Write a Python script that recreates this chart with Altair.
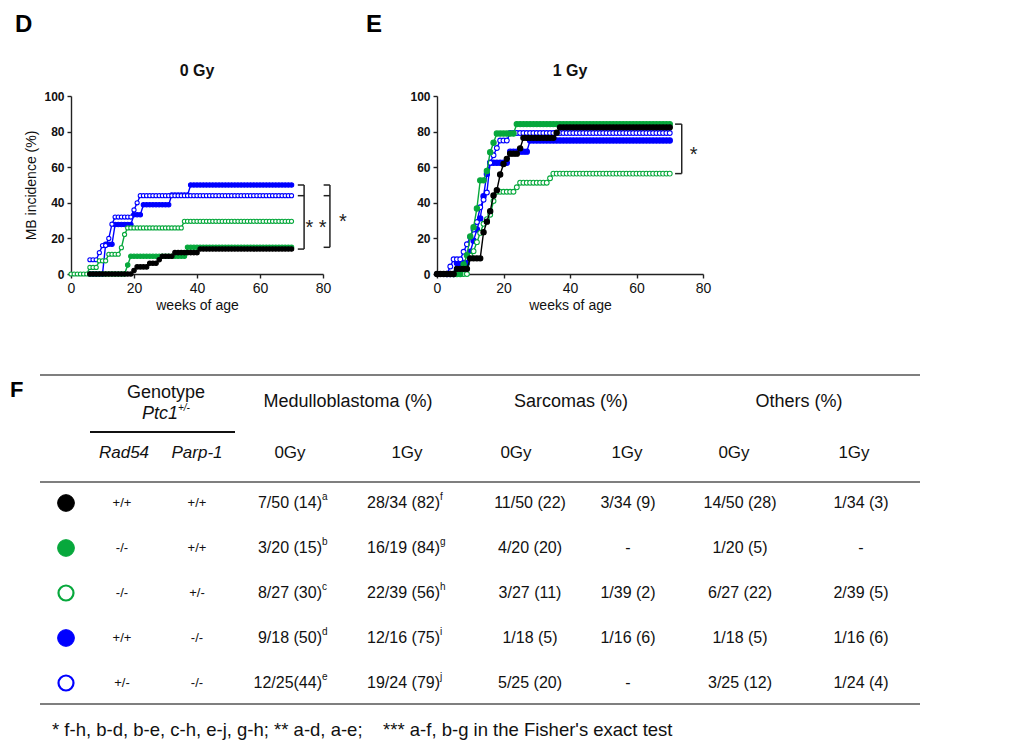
import altair as alt
import pandas as pd

FONT = "Liberation Sans"
INK = "#111111"

# ---------------- series (genotypes) ----------------
SERIES = ["Rad54+/+ Parp-1+/+", "Rad54-/- Parp-1+/+", "Rad54-/- Parp-1+/-",
          "Rad54+/+ Parp-1-/-", "Rad54+/- Parp-1-/-"]
SERIES_STROKE = ["#000000", "#07a83c", "#07a83c", "#0000ff", "#0000ff"]
SERIES_FILL = ["#000000", "#07a83c", "#ffffff", "#0000ff", "#ffffff"]
DRAW_ORDER = [3, 4, 2, 1, 0]

# ---------------- Panel D: 0 Gy, MB incidence (%) by week ----------------
d0_start = [6, 6, 0, 6, 6]
d0_black = [0]*14 + [2] + [4]*4 + [6]*3 + [8] + [10]*4 + [12]*8 + [14]*30
d0_green_filled = [0]*12 + [5] + [10]*18 + [15]*34
d0_green_open = [0]*6 + [3.7]*3 + [7.4]*3 + [11.1]*4 + [14.8] + [22.2] + [25.9]*18 + [29.6]*35
d0_blue_filled = [0]*5 + [16.7]*3 + [27.8]*6 + [33.3]*3 + [38.9]*9 + [44.4]*6 + [50]*33
d0_blue_open = [8]*3 + [12] + [16]*2 + [20] + [28] + [32]*6 + [36] + [40] + [44]*49

# ---------------- Panel E: 1 Gy ----------------
e1_start = [0, 5, 7, 3, 1]
e1_black = ([0]*6 + [2.9]*4 + [8.8]*4 + [23.5, 29.4, 35.3, 44.1, 47.1, 55.9, 61.8, 64.7]
            + [67.6]*3 + [70.6] + [76.5]*10 + [79.4] + [82.4]*34)
e1_green_filled = [0]*3 + [5.3, 10.5, 21.1, 26.3, 36.8] + [52.6]*2 + [57.9, 68.4, 73.7] + [78.9]*6 + [84.2]*47
e1_green_open = ([0]*3 + [10.3, 12.8, 17.9, 23.1, 28.2, 30.8, 33.3, 41.0] + [46.2]*6 + [48.7]
                 + [51.3]*9 + [53.8] + [56.4]*36)
e1_blue_filled = [0]*3 + [6.25]*4 + [12.5, 18.75, 25.0, 31.25, 43.75, 56.25] + [62.5]*6 + [68.75]*6 + [75]*43
e1_blue_open = ([0]*3 + [4.2] + [8.3]*3 + [12.5, 16.7, 20.8, 25.0, 29.2, 37.5, 41.7, 45.8, 62.5, 66.7, 70.8]
                + [75]*3 + [79.2]*49)

# significance brackets (x in weeks, y levels in %) and stars
D_BRACKETS = [(74, [50, 44, 14]), (82.2, [50, 44, 15])]
D_STARS = [("* *", 77.8, 26), ("*", 86.3, 29)]
E_BRACKETS = [(73.6, [84.2, 56.4])]
E_STARS = [("*", 77.2, 67)]

# ---------------- Table F ----------------
rad54 = ["+/+", "-/-", "-/-", "+/+", "+/-"]
parp1 = ["+/+", "+/+", "+/-", "-/-", "-/-"]
mb_0gy = ["7/50 (14)", "3/20 (15)", "8/27 (30)", "9/18 (50)", "12/25(44)"]
mb_0gy_sup = ["a", "b", "c", "d", "e"]
mb_1gy = ["28/34 (82)", "16/19 (84)", "22/39 (56)", "12/16 (75)", "19/24 (79)"]
mb_1gy_sup = ["f", "g", "h", "i", "j"]
sarc_0gy = ["11/50 (22)", "4/20 (20)", "3/27 (11)", "1/18 (5)", "5/25 (20)"]
sarc_1gy = ["3/34 (9)", "-", "1/39 (2)", "1/16 (6)", "-"]
oth_0gy = ["14/50 (28)", "1/20 (5)", "6/27 (22)", "1/18 (5)", "3/25 (12)"]
oth_1gy = ["1/34 (3)", "-", "2/39 (5)", "1/16 (6)", "1/24 (4)"]
FOOTNOTE = "* f-h, b-d, b-e, c-h, e-j, g-h; ** a-d, a-e;\u00a0\u00a0\u00a0 *** a-f, b-g in the Fisher's exact test"

# ---------------- build frames ----------------
def series_frame(panel, starts, lists):
    frames = []
    for i, (s, vals) in enumerate(zip(starts, lists)):
        frames.append(pd.DataFrame({"panel": panel, "series": SERIES[i],
                                    "week": list(range(s, s + len(vals))), "value": vals}))
    return pd.concat(frames, ignore_index=True)

curves = pd.concat([
    series_frame("0 Gy", d0_start, [d0_black, d0_green_filled, d0_green_open, d0_blue_filled, d0_blue_open]),
    series_frame("1 Gy", e1_start, [e1_black, e1_green_filled, e1_green_open, e1_blue_filled, e1_blue_open]),
], ignore_index=True)

stroke_scale = alt.Scale(domain=SERIES, range=SERIES_STROKE)
fill_scale = alt.Scale(domain=SERIES, range=SERIES_FILL)


def label(txt, x, y, size, weight="normal", style="normal", align="center", baseline="middle", color=INK):
    return alt.Chart(pd.DataFrame({"t": [txt]})).mark_text(
        font=FONT, fontSize=size, fontWeight=weight, fontStyle=style, align=align,
        baseline=baseline, color=color).encode(text="t:N", x=alt.value(x), y=alt.value(y))


def panel_chart(panel, title, y_title, brackets, stars, width, fsize, osize):
    xs = alt.Scale(domain=[0, 80], nice=False, zero=False)
    ys = alt.Scale(domain=[0, 100], nice=False, zero=False)
    common = dict(grid=False, domainColor="#222", tickColor="#222", domainWidth=1.4, tickWidth=1.4,
                  tickSize=4, labelFont=FONT, titleFont=FONT, labelColor=INK, titleColor=INK,
                  labelFlush=False, labelOverlap=False)
    xax = alt.Axis(values=[0, 20, 40, 60, 80], title="weeks of age", labelFontSize=14,
                   titleFontSize=14, titleFontWeight="normal", labelPadding=3, titlePadding=3, **common)
    ykw = dict(values=[0, 20, 40, 60, 80, 100], labelFontSize=12, labelFontWeight="bold",
               labelPadding=3, **common)
    if y_title:
        yax = alt.Axis(title=y_title, titleFontSize=14, titleFontWeight="normal", titlePadding=5, **ykw)
    else:
        yax = alt.Axis(title=None, **ykw)
    X = lambda f: alt.X(f, scale=xs, axis=xax)
    Y = lambda f: alt.Y(f, scale=ys, axis=yax)
    layers = []
    for i in DRAW_ORDER:
        d = curves[(curves.panel == panel) & (curves.series == SERIES[i])]
        base = alt.Chart(d).encode(x=X("week:Q"), y=Y("value:Q"))
        layers.append(base.mark_line(strokeWidth=1.4).encode(
            stroke=alt.Stroke("series:N", scale=stroke_scale, legend=None)))
        size = osize if SERIES_FILL[i] == "#ffffff" else fsize
        layers.append(base.mark_point(shape="circle", filled=True, size=size, strokeWidth=1.1, opacity=1).encode(
            fill=alt.Fill("series:N", scale=fill_scale, legend=None),
            stroke=alt.Stroke("series:N", scale=stroke_scale, legend=None)))
    segs = []
    for bx, levels in brackets:
        segs.append({"week": bx, "x2": bx, "value": min(levels), "y2": max(levels)})
        for lv in levels:
            segs.append({"week": bx - 2, "x2": bx, "value": lv, "y2": lv})
    layers.append(alt.Chart(pd.DataFrame(segs)).mark_rule(color="#222", strokeWidth=1.5).encode(
        x=X("week:Q"), x2="x2:Q", y=Y("value:Q"), y2="y2:Q"))
    layers.append(alt.Chart(pd.DataFrame(stars, columns=["t", "week", "value"])).mark_text(
        font=FONT, fontSize=20, color="#222", baseline="middle").encode(
        x=X("week:Q"), y=Y("value:Q"), text="t:N"))
    return alt.layer(*layers).properties(
        width=width, height=178,
        title=alt.TitleParams(title, font=FONT, fontSize=16, fontWeight="bold", color=INK, offset=11))


chart_d = panel_chart("0 Gy", "0 Gy", "MB incidence (%)", D_BRACKETS, D_STARS, 252, 20, 17)
chart_e = panel_chart("1 Gy", "1 Gy", None, E_BRACKETS, E_STARS, 266, 28, 23)

# ---------------- table chart ----------------
TABLE_COL_X = [-5, 51, 126, 251, 369, 459, 557, 669, 790]
TABLE_ROW_Y = [128, 308]
colx = alt.Scale(domain=list(range(9)), range=TABLE_COL_X, nice=False, zero=False)
rowy = alt.Scale(domain=[0, 4], range=TABLE_ROW_Y, nice=False, zero=False)

cells = []
for r in range(5):
    cells += [
        {"row": r, "col": 1, "t": rad54[r], "kind": "geno"},
        {"row": r, "col": 2, "t": parp1[r], "kind": "geno"},
        {"row": r, "col": 3, "t": mb_0gy[r], "kind": "mb"},
        {"row": r, "col": 4, "t": mb_1gy[r], "kind": "mb"},
        {"row": r, "col": 3, "t": mb_0gy_sup[r], "kind": "sup"},
        {"row": r, "col": 4, "t": mb_1gy_sup[r], "kind": "sup"},
        {"row": r, "col": 5, "t": sarc_0gy[r], "kind": "num"},
        {"row": r, "col": 6, "t": sarc_1gy[r], "kind": "num"},
        {"row": r, "col": 7, "t": oth_0gy[r], "kind": "num"},
        {"row": r, "col": 8, "t": oth_1gy[r], "kind": "num"},
    ]
cells = pd.DataFrame(cells)
markers = pd.DataFrame({"row": list(range(5)), "col": [0]*5, "series": SERIES})


def cell_layer(kind, size, align, dy=0):
    return alt.Chart(cells[cells.kind == kind]).mark_text(
        font=FONT, fontSize=size, align=align, baseline="middle", dy=dy, color=INK).encode(
        x=alt.X("col:Q", scale=colx, axis=None), y=alt.Y("row:Q", scale=rowy, axis=None), text="t:N")


def hline(x1, x2, y, color, width):
    return alt.Chart(pd.DataFrame({"k": [0]})).mark_rule(color=color, strokeWidth=width).encode(
        x=alt.value(x1), x2=alt.value(x2), y=alt.value(y))


tab_layers = [
    hline(-31, 849, 0, "#555", 1.5),
    hline(19, 164, 57, "#111", 2),
    hline(-31, 849, 107, "#555", 1.5),
    hline(-31, 849, 329, "#555", 1.5),
    alt.Chart(markers[markers.series.isin([SERIES[0], SERIES[1], SERIES[3]])]).mark_point(
        shape="circle", filled=True, size=280, strokeWidth=1, opacity=1).encode(
        x=alt.X("col:Q", scale=colx, axis=None), y=alt.Y("row:Q", scale=rowy, axis=None),
        fill=alt.Fill("series:N", scale=fill_scale, legend=None),
        stroke=alt.Stroke("series:N", scale=stroke_scale, legend=None)),
    alt.Chart(markers[markers.series.isin([SERIES[2], SERIES[4]])]).mark_point(
        shape="circle", filled=True, size=225, strokeWidth=2.2, opacity=1).encode(
        x=alt.X("col:Q", scale=colx, axis=None), y=alt.Y("row:Q", scale=rowy, axis=None),
        fill=alt.Fill("series:N", scale=fill_scale, legend=None),
        stroke=alt.Stroke("series:N", scale=stroke_scale, legend=None)),
    cell_layer("geno", 13, "center"),
    cell_layer("mb", 16, "right"),
    cell_layer("sup", 10, "left", dy=-6),
    cell_layer("num", 16, "center"),
    # headers
    label("Genotype", 95, 18, 18),
    label("Ptc1", 107, 39, 18, style="italic", align="right"),
    label("+/-", 107, 33, 10, style="italic", align="left"),
    label("Medulloblastoma (%)", 277, 27, 18),
    label("Sarcomas (%)", 500, 27, 18),
    label("Others (%)", 728, 27, 18),
    label("Rad54", 53, 78, 17, style="italic"),
    label("Parp-1", 126, 78, 17, style="italic"),
    label("0Gy", 219, 78, 17),
    label("1Gy", 336, 78, 17),
    label("0Gy", 445, 78, 17),
    label("1Gy", 556, 78, 17),
    label("0Gy", 663, 78, 17),
    label("1Gy", 783, 78, 17),
    # panel letters
    label("D", -56, -362, 24, weight="bold", align="left", baseline="top", color="#000"),
    label("E", 295, -362, 24, weight="bold", align="left", baseline="top", color="#000"),
    label("F", -61, 15, 22, weight="bold", align="left", color="#000"),
    label(FOOTNOTE, -19, 355, 18.5, align="left"),
]
table = alt.layer(*tab_layers).properties(width=849, height=330)

top = alt.hconcat(chart_d, chart_e, spacing=114, bounds="flush")
# with flush bounds the nested row contributes no height, so the spacing is top-to-top
chart = alt.vconcat(top, table, spacing=279, bounds="flush").properties(
    padding={"left": 2, "top": 5, "right": 4, "bottom": 0},
    background="white",
).configure_view(stroke=None)

chart.save("out.html", embed_options={"renderer": "svg", "actions": False})
